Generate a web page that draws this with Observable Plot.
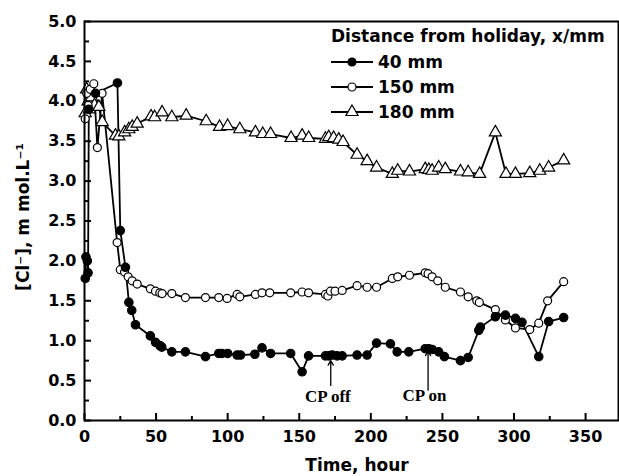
<!DOCTYPE html>
<html>
<head>
<meta charset="utf-8">
<script src="https://cdn.jsdelivr.net/npm/d3@7"></script>
<script src="https://cdn.jsdelivr.net/npm/@observablehq/plot@0.6"></script>
<style>
  body { margin: 0; background: #fff; }
  #wrap { position: relative; width: 619px; height: 476px; font-family: "DejaVu Sans", sans-serif; font-weight: bold; }
  #wrap svg.plot { position: absolute; left: 0; top: 0; }
  .ytitle { position: absolute; left: 23px; top: 217px; transform: translate(-50%, -50%) rotate(-90deg); white-space: nowrap; font-size: 17px; }
  .xtitle { position: absolute; left: 357px; top: 465px; transform: translate(-50%, -50%); white-space: nowrap; font-size: 17px; }
  #legend { position: absolute; left: 0; top: 0; pointer-events: none; }
</style>
</head>
<body>
<div id="wrap"></div>
<script>
// ---- data ----
const seriesNames = ["40 mm", "150 mm", "180 mm"];
const legendTitle = "Distance from holiday, x/mm";
const xLabel = "Time, hour";
const yLabel = "[Cl\u207B], m mol.L\u207B\u00B9";

const t40 = [0.5, 1, 2, 2.5, 3, 7.7, 23, 25, 28.6, 31, 33, 35.6, 46, 49.6, 52.6, 54, 61, 70.5, 84.5, 93.8, 96, 100, 106.6, 109, 119, 124, 130, 144, 152, 156.5, 168.3, 170.6, 173, 176.4, 180, 190.4, 197.4, 204, 213.7, 218.4, 226.5, 238, 240.5, 242.8, 247.4, 251.4, 262.6, 268, 275.4, 276.5, 287, 294, 301, 305.6, 317.3, 324.2, 334.7];
const v40 = [1.78, 2.05, 2.0, 1.85, 3.9, 4.1, 4.23, 2.38, 1.92, 1.48, 1.38, 1.2, 1.06, 0.98, 0.94, 0.92, 0.86, 0.86, 0.80, 0.84, 0.84, 0.84, 0.82, 0.82, 0.83, 0.91, 0.84, 0.84, 0.61, 0.81, 0.81, 0.81, 0.82, 0.81, 0.81, 0.82, 0.82, 0.97, 0.96, 0.86, 0.86, 0.90, 0.90, 0.89, 0.86, 0.80, 0.75, 0.79, 1.13, 1.17, 1.30, 1.32, 1.28, 1.23, 0.80, 1.24, 1.29];

const t150 = [0.5, 1.5, 2.5, 4, 6.5, 9, 12.3, 22.8, 25, 28, 30.5, 33.3, 36.8, 46, 49.6, 52.6, 54.2, 61, 70.5, 84.5, 93.8, 99.6, 106.6, 108.5, 119.4, 124, 129.4, 144, 152, 156.5, 168.3, 170, 171.8, 175, 180, 190.4, 197.4, 204, 215, 218.8, 227, 238, 240, 242.8, 246.7, 252, 262.6, 268, 274, 275.8, 287, 294, 301, 311, 317.3, 323.5, 334.7];
const v150 = [3.78, 4.1, 3.95, 4.15, 4.22, 3.42, 4.10, 2.23, 1.89, 1.86, 1.80, 1.75, 1.71, 1.65, 1.62, 1.60, 1.59, 1.59, 1.54, 1.54, 1.54, 1.53, 1.58, 1.55, 1.58, 1.60, 1.60, 1.60, 1.61, 1.60, 1.58, 1.56, 1.62, 1.62, 1.63, 1.69, 1.67, 1.67, 1.78, 1.80, 1.82, 1.85, 1.84, 1.80, 1.75, 1.67, 1.61, 1.55, 1.50, 1.48, 1.39, 1.26, 1.16, 1.14, 1.22, 1.50, 1.74];

const t180 = [0.5, 1.5, 2.5, 3.5, 5, 7, 10, 12.4, 21.6, 24, 28, 31, 33.3, 36.8, 46.5, 49, 54.2, 61, 71, 85, 94.3, 100, 108.5, 119.4, 124.5, 130, 144.3, 152, 156.6, 168.3, 170.6, 174, 177.6, 180.6, 190.4, 197.4, 204, 215, 218.8, 227, 238, 240.5, 242.8, 247.4, 252, 262.6, 268, 276, 287, 294.4, 301, 311, 318, 324.2, 334.7];
const v180 = [3.85, 4.15, 4.0, 3.9, 4.05, 3.95, 3.93, 3.74, 3.57, 3.56, 3.61, 3.65, 3.68, 3.72, 3.81, 3.80, 3.86, 3.80, 3.82, 3.75, 3.68, 3.69, 3.65, 3.61, 3.59, 3.59, 3.54, 3.57, 3.54, 3.53, 3.55, 3.54, 3.52, 3.49, 3.33, 3.25, 3.17, 3.09, 3.13, 3.12, 3.15, 3.14, 3.13, 3.17, 3.15, 3.12, 3.11, 3.09, 3.61, 3.09, 3.09, 3.10, 3.13, 3.17, 3.26];

const xTicks = [0, 50, 100, 150, 200, 250, 300, 350];
const xMinorTicks = [25, 75, 125, 175, 225, 275, 325];
const yTicks = [0, 0.5, 1, 1.5, 2, 2.5, 3, 3.5, 4, 4.5, 5];
const yMinorTicks = [0.25, 0.75, 1.25, 1.75, 2.25, 2.75, 3.25, 3.75, 4.25, 4.75];

// annotations: label, arrow time, arrow start/end values, label value
const annLabels = ["CP off", "CP on"];
const annTime = [172, 240];
const annFrom = [0.44, 0.38];
const annTo = [0.75, 0.87];
const annTextT = [170, 237.5];
const annTextV = [0.30, 0.31];

// ---- build ----
const mk = (ts, vs) => ts.map((t, i) => ({t, v: vs[i]}));
const d40 = mk(t40, v40), d150 = mk(t150, v150), d180 = mk(t180, v180);
const ann = annLabels.map((l, i) => ({label: l, t: annTime[i], y1: annFrom[i], y2: annTo[i], tt: annTextT[i], tv: annTextV[i]}));

const W = 619, H = 476;
const mL = 84, mR = 1, mT = 21, mB = 56;
const plotH = H - mT - mB, plotW = W - mL - mR;

const chart = Plot.plot({
  width: W, height: H,
  marginLeft: mL, marginRight: mR, marginTop: mT, marginBottom: mB,
  style: {fontFamily: "DejaVu Sans, sans-serif", fontSize: "16px", fontWeight: "bold", color: "#000", background: "#fff"},
  x: {domain: [0, 373], ticks: xTicks},
  y: {domain: [0, 5], ticks: yTicks},
  marks: [
    Plot.axisX(xTicks, {tickSize: 0, tickPadding: 10, tickFormat: d => String(d), label: null, fontWeight: "bold"}),
    Plot.axisY(yTicks, {tickSize: 0, tickPadding: 8, tickFormat: d3.format(".1f"), label: null, fontWeight: "bold"}),
    Plot.tickX(xTicks, {x: d => d, insetTop: plotH - 7, stroke: "#000", strokeWidth: 2}),
    Plot.tickX(xMinorTicks, {x: d => d, insetTop: plotH - 4, stroke: "#000", strokeWidth: 2}),
    Plot.tickY(yTicks, {y: d => d, insetRight: plotW - 7, stroke: "#000", strokeWidth: 2}),
    Plot.tickY(yMinorTicks, {y: d => d, insetRight: plotW - 5, stroke: "#000", strokeWidth: 2}),
    Plot.line(d180, {x: "t", y: "v", stroke: "#000", strokeWidth: 1.8}),
    Plot.line(d150, {x: "t", y: "v", stroke: "#000", strokeWidth: 1.8}),
    Plot.line(d40, {x: "t", y: "v", stroke: "#000", strokeWidth: 1.8}),
    Plot.dot(d180, {x: "t", y: "v", symbol: "triangle", r: 4.5, fill: "#fff", stroke: "#000", strokeWidth: 1.2}),
    Plot.dot(d150, {x: "t", y: "v", symbol: "circle", r: 4, fill: "#fff", stroke: "#000", strokeWidth: 1.2}),
    Plot.dot(d40, {x: "t", y: "v", symbol: "circle", r: 4.2, fill: "#000", stroke: "#000", strokeWidth: 1.2}),
    Plot.arrow(ann, {x: "t", y1: "y1", y2: "y2", stroke: "#000", strokeWidth: 1.3, headLength: 6}),
    Plot.text(ann, {x: "tt", y: "tv", text: "label", fontFamily: "Liberation Serif, serif", fontWeight: "bold", fontSize: 17, fill: "#000"}),
    Plot.frame({stroke: "#000", strokeWidth: 2})
  ]
});
chart.classList.add("plot");

const wrap = document.getElementById("wrap");
wrap.appendChild(chart);

const yt = document.createElement("div");
yt.className = "ytitle"; yt.textContent = yLabel; wrap.appendChild(yt);
const xt = document.createElement("div");
xt.className = "xtitle"; xt.textContent = xLabel; wrap.appendChild(xt);

// legend overlay
const ns = "http://www.w3.org/2000/svg";
const lg = document.createElementNS(ns, "svg");
lg.setAttribute("id", "legend"); lg.setAttribute("width", W); lg.setAttribute("height", H);
const el = (name, attrs, txt) => { const e = document.createElementNS(ns, name); for (const k in attrs) e.setAttribute(k, attrs[k]); if (txt) e.textContent = txt; lg.appendChild(e); return e; };
const lx = 331, lyTitle = 36, lys = [62, 87, 112];
el("text", {x: lx, y: lyTitle, "dominant-baseline": "central", "font-family": "DejaVu Sans, sans-serif", "font-weight": "bold", "font-size": 17}, legendTitle);
const tri = d3.symbol(d3.symbolTriangle, 63.6)();
seriesNames.forEach((name, i) => {
  const y = lys[i];
  el("line", {x1: lx, x2: lx + 42, y1: y, y2: y, stroke: "#000", "stroke-width": 1.8});
  if (i === 2) el("path", {d: tri, transform: `translate(${lx + 21},${y})`, fill: "#fff", stroke: "#000", "stroke-width": 1.2});
  else el("circle", {cx: lx + 21, cy: y, r: 4, fill: i === 0 ? "#000" : "#fff", stroke: "#000", "stroke-width": 1.2});
  el("text", {x: lx + 47, y: y, "dominant-baseline": "central", "font-family": "DejaVu Sans, sans-serif", "font-weight": "bold", "font-size": 17}, name);
});
wrap.appendChild(lg);
</script>
</body>
</html>
